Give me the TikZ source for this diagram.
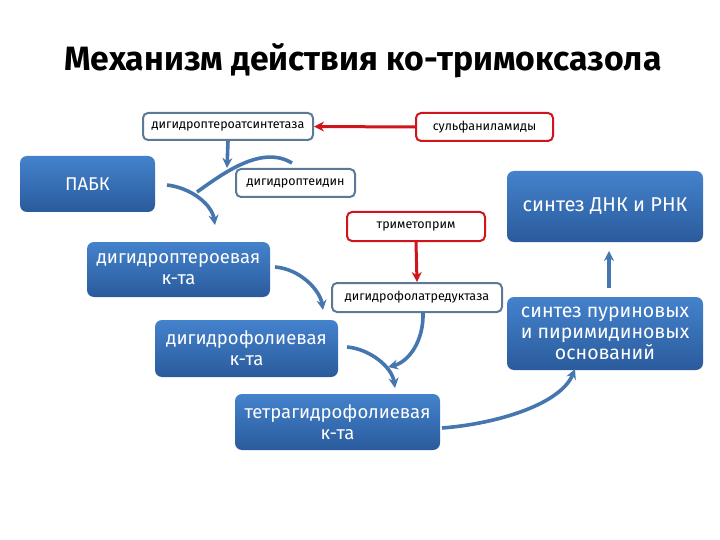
\documentclass[tikz,border=0pt]{standalone}
\usepackage{fontspec}
\setmainfont{Fira Sans}
\usetikzlibrary{arrows.meta}
\definecolor{boxtop}{HTML}{4482CC}
\definecolor{boxbot}{HTML}{2A5B9C}
\definecolor{arrblue}{HTML}{4676AE}
\definecolor{outl}{HTML}{5C7A98}
\definecolor{redl}{HTML}{D0141C}
\tikzset{
  bluebox/.style={rounded corners=7pt, top color=boxtop, bottom color=boxbot, draw=none,
    text=white, font=\fontsize{18.5}{21}\selectfont, align=center, inner sep=2pt},
  outbox/.style={rounded corners=5pt, draw=outl, line width=2pt, fill=white,
    font=\fontsize{12.5}{14}\selectfont, inner sep=1pt},
  redbox/.style={outbox, draw=redl},
  arr/.style={draw=arrblue, line width=3.6pt, -{Stealth[length=10pt,width=10pt]}},
  plain/.style={draw=arrblue, line width=3.6pt},
  redarr/.style={draw=redl, line width=3pt, -{Stealth[length=10pt,width=10pt]}}
}
\begin{document}
\begin{tikzpicture}[x=1pt,y=-1pt]
\useasboundingbox (0,0) rectangle (720,540);
% title
\node (title) at (363,61) {\resizebox{597pt}{!}{\bfseries Механизм действия ко-тримоксазола}};
% outline boxes
\node[outbox, minimum width=170pt, minimum height=27pt] (syn) at (228,126.5) {дигидроптероатсинтетаза};
\node[redbox, minimum width=137pt, minimum height=28pt] (sulfa) at (484.5,127) {сульфаниламиды};
\node[outbox, minimum width=119pt, minimum height=28pt] (pter) at (295.5,183) {дигидроптеидин};
\node[redbox, minimum width=138pt, minimum height=29pt] (tmp) at (416,226.5) {триметоприм};
\node[outbox, minimum width=170pt, minimum height=29pt] (red) at (417,297.5) {дигидрофолатредуктаза};
% blue boxes
\node[bluebox, minimum width=135pt, minimum height=56pt] (pabk) at (87.5,184) {ПАБК};
\node[bluebox, minimum width=183pt, minimum height=55pt] (dpt) at (178.5,269.5) {дигидроптероевая\\к-та};
\node[bluebox, minimum width=183pt, minimum height=57pt] (dhf) at (246.5,348.5) {дигидрофолиевая\\к-та};
\node[bluebox, minimum width=205pt, minimum height=56pt] (thf) at (337.5,422) {тетрагидрофолиевая\\к-та};
\node[bluebox, minimum width=196pt, minimum height=71pt, font=\fontsize{20}{22}\selectfont] (dna) at (605,206.5) {синтез ДНК и РНК};
\node[bluebox, minimum width=196pt, minimum height=73pt, font=\fontsize{19.5}{21}\selectfont] (pur) at (605,333.5) {синтез пуриновых\\и пиримидиновых\\оснований};
% coordinates
\coordinate (s1) at (227,168);
\coordinate (p0) at (167,185);
\coordinate (p1) at (215,225);
\coordinate (b0) at (197,192);
\coordinate (b1) at (292,163);
\coordinate (d0) at (275,267);
\coordinate (d1) at (323,310);
\coordinate (f0) at (347,347);
\coordinate (f1) at (395,388);
\coordinate (r0) at (423,312);
\coordinate (r1) at (388,367);
\coordinate (t0) at (442,428);
\coordinate (t1) at (575,369);
\coordinate (u0) at (609,288);
\coordinate (u1) at (609,251);
% red arrows
\draw[redarr] (sulfa.west) -- (syn.east);
\draw[redarr] (tmp.south) -- (red.north);
% blue arrows
\draw[arr] (syn.south) -- (s1);
\draw[arr] (p0) .. controls (192,188) and (212,205) .. (p1);
\draw[plain] (b0) .. controls (225,172) and (262,145) .. (b1);
\draw[arr] (d0) .. controls (300,269) and (320,290) .. (d1);
\draw[arr] (f0) .. controls (370,349) and (392,367) .. (f1);
\draw[arr] (r0) .. controls (424,342) and (408,362) .. (r1);
\draw[arr] (t0) .. controls (495,424) and (560,405) .. (t1);
\draw[arr] (u0) -- (u1);
\end{tikzpicture}
\end{document}
